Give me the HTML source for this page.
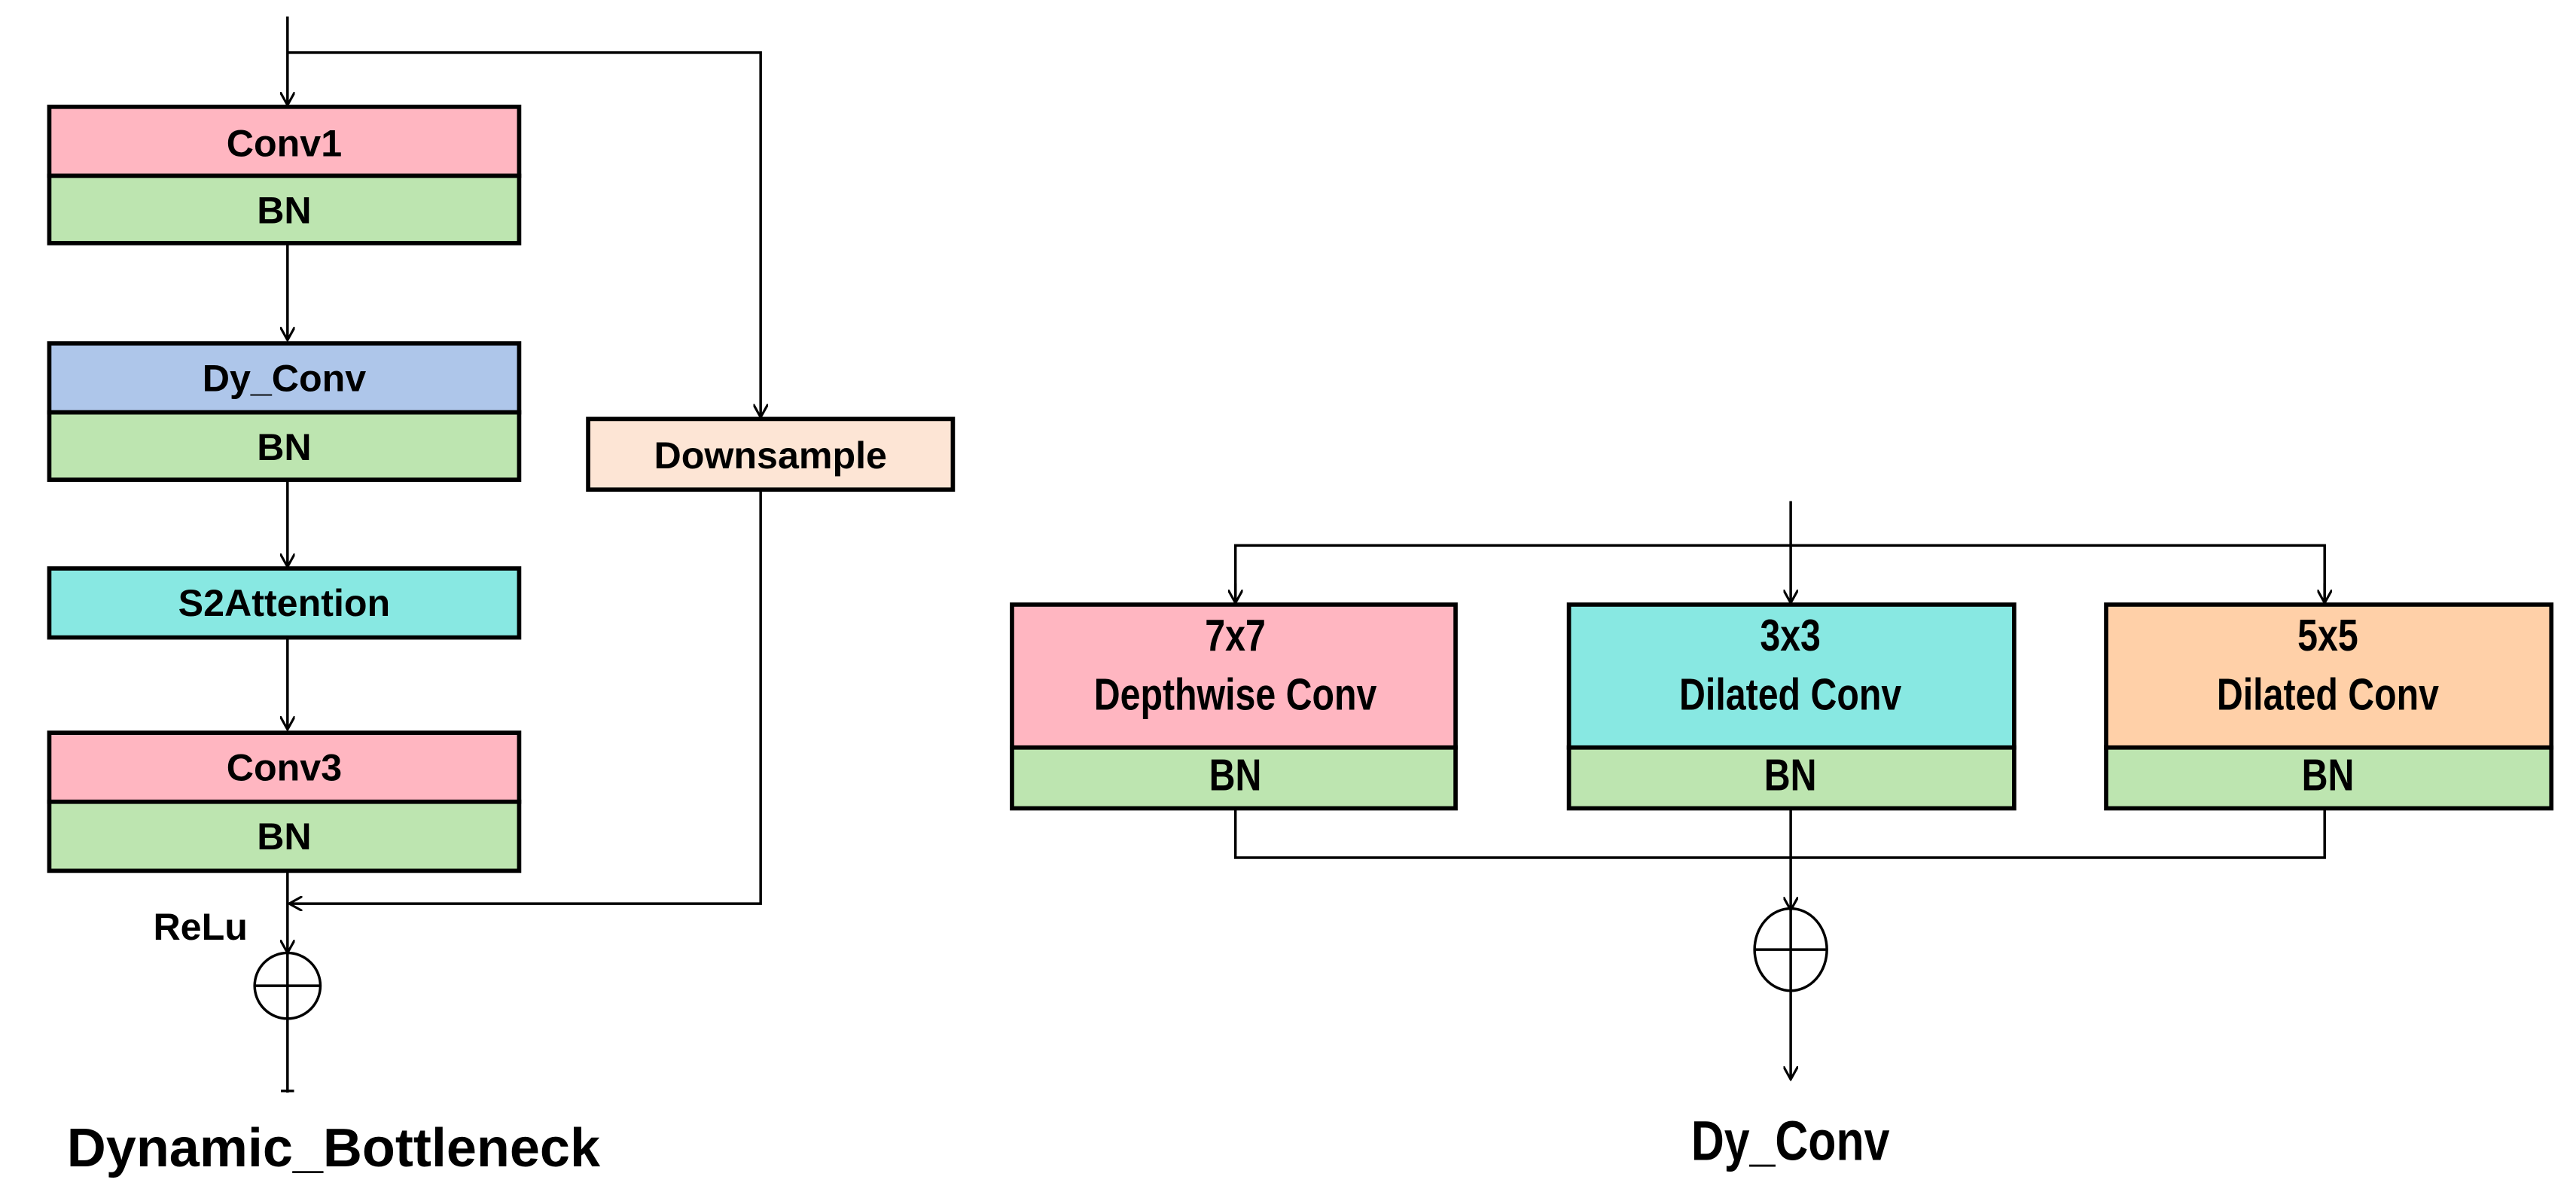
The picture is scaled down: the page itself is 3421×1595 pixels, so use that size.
<!DOCTYPE html>
<html><head><meta charset="utf-8"><style>
html,body{margin:0;padding:0;background:#fff;}
svg{display:block;}
text{font-family:"Liberation Sans",Arial,sans-serif;font-weight:bold;fill:#000;}
</style></head><body>
<svg width="3421" height="1595" viewBox="0 0 1568 731" preserveAspectRatio="none" xmlns="http://www.w3.org/2000/svg">
<defs>
<marker id="a" viewBox="0 0 10 10" refX="9" refY="5" markerWidth="9" markerHeight="9" orient="auto" markerUnits="userSpaceOnUse">
<path d="M0,0 L9,5 L0,10" fill="none" stroke="#000" stroke-width="1.6"/></marker>
</defs>
<g stroke="#000" stroke-width="1.6" fill="none">
<!-- left -->
<line x1="175" y1="10" x2="175" y2="64" marker-end="url(#a)"/>
<polyline points="175,32 463,32 463,254" marker-end="url(#a)"/>
<line x1="175" y1="148" x2="175" y2="207" marker-end="url(#a)"/>
<line x1="175" y1="292" x2="175" y2="345" marker-end="url(#a)"/>
<line x1="175" y1="388" x2="175" y2="444" marker-end="url(#a)"/>
<polyline points="463,298 463,550 176,550" marker-end="url(#a)"/>
<line x1="175" y1="530" x2="175" y2="580" marker-end="url(#a)"/>
<circle cx="175" cy="600" r="20"/>
<line x1="155" y1="600" x2="195" y2="600"/>
<line x1="175" y1="580" x2="175" y2="665"/>
<line x1="171" y1="664" x2="179" y2="664"/>
<!-- right -->
<line x1="1090" y1="305" x2="1090" y2="367" marker-end="url(#a)"/>
<polyline points="752,367 752,332 1415,332 1415,367"/>
<line x1="752" y1="355" x2="752" y2="367" marker-end="url(#a)"/>
<line x1="1415" y1="355" x2="1415" y2="367" marker-end="url(#a)"/>
<polyline points="752,492 752,522 1415,522 1415,492"/>
<line x1="1090" y1="492" x2="1090" y2="554" marker-end="url(#a)"/>
<ellipse cx="1090" cy="578" rx="22" ry="25"/>
<line x1="1068" y1="578" x2="1112" y2="578"/>
<line x1="1090" y1="553" x2="1090" y2="657" marker-end="url(#a)"/>
</g>
<g stroke="#000" stroke-width="2.6">
<rect x="30" y="65" width="286" height="42" fill="#FFB6C1"/>
<rect x="30" y="107" width="286" height="41" fill="#BDE5B0"/>
<rect x="30" y="209" width="286" height="42" fill="#AEC6EA"/>
<rect x="30" y="251" width="286" height="41" fill="#BDE5B0"/>
<rect x="30" y="346" width="286" height="42" fill="#88E8E2"/>
<rect x="30" y="446" width="286" height="42" fill="#FFB6C1"/>
<rect x="30" y="488" width="286" height="42" fill="#BDE5B0"/>
<rect x="358" y="255" width="222" height="43" fill="#FDE5D5"/>
<rect x="616" y="368" width="270" height="87" fill="#FFB6C1"/>
<rect x="616" y="455" width="270" height="37" fill="#BDE5B0"/>
<rect x="955" y="368" width="271" height="87" fill="#88E8E2"/>
<rect x="955" y="455" width="271" height="37" fill="#BDE5B0"/>
<rect x="1282" y="368" width="271" height="87" fill="#FFD0A8"/>
<rect x="1282" y="455" width="271" height="37" fill="#BDE5B0"/>
</g>
<g font-size="23" text-anchor="middle">
<text x="173" y="95">Conv1</text>
<text x="173" y="136">BN</text>
<text x="173" y="238">Dy_Conv</text>
<text x="173" y="280">BN</text>
<text x="173" y="375">S2Attention</text>
<text x="173" y="475">Conv3</text>
<text x="173" y="517">BN</text>
<text x="469" y="285">Downsample</text>
<text x="122" y="572">ReLu</text>
</g>
<text x="203" y="710" font-size="33" text-anchor="middle">Dynamic_Bottleneck</text>
<g font-size="27" text-anchor="middle" transform="scale(0.82,1)">
<text x="917" y="396">7x7</text>
<text x="917" y="432">Depthwise Conv</text>
<text x="917" y="481">BN</text>
<text x="1329" y="396">3x3</text>
<text x="1329" y="432">Dilated Conv</text>
<text x="1329" y="481">BN</text>
<text x="1728" y="396">5x5</text>
<text x="1728" y="432">Dilated Conv</text>
<text x="1728" y="481">BN</text>
<text x="1329" y="706" font-size="34">Dy_Conv</text>
</g>
</svg>
</body></html>
